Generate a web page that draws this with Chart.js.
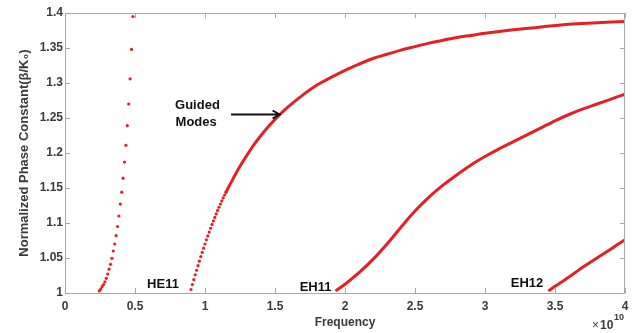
<!DOCTYPE html>
<html>
<head>
<meta charset="utf-8">
<script src="https://cdn.jsdelivr.net/npm/chart.js@4.4.1/dist/chart.umd.min.js"></script>
<style>
  html, body { margin: 0; padding: 0; background: #ffffff; }
  #wrap { width: 642px; height: 333px; position: relative; }
</style>
</head>
<body>
<div id="wrap"><canvas id="c" width="642" height="333"></canvas></div>
<script>
// ---- Data (frequency in units of 1e10 Hz, normalized phase constant beta/K0) ----
const mode1Freq = [0.245,0.255,0.265,0.275,0.285,0.295,0.305,0.315,0.325,0.335,0.345,0.355,0.365,0.375,0.385,0.395,0.405,0.415,0.425,0.435,0.445,0.455,0.465,0.475,0.485];
const mode1Beta = [1.003,1.0055,1.009,1.012,1.016,1.021,1.027,1.034,1.041,1.0496,1.060,1.070,1.082,1.095,1.110,1.127,1.144,1.164,1.187,1.211,1.239,1.270,1.306,1.348,1.395];

const he11DotFreq = [0.90,0.91,0.92,0.93,0.94,0.95,0.96,0.97,0.98,0.99,1.00,1.01,1.02,1.03,1.04,1.05,1.06,1.07,1.08,1.09,1.10,1.11,1.12,1.13,1.14,1.15];
const he11DotBeta = [1.005,1.012,1.019,1.026,1.0325,1.039,1.0455,1.052,1.058,1.064,1.070,1.076,1.0815,1.087,1.0925,1.098,1.103,1.108,1.113,1.118,1.1225,1.127,1.1315,1.136,1.140,1.144];

const he11Freq = [1.15,1.20,1.25,1.30,1.35,1.40,1.45,1.50,1.55,1.60,1.70,1.80,1.90,2.00,2.10,2.20,2.30,2.40,2.50,2.60,2.70,2.80,2.90,3.00,3.20,3.40,3.60,3.80,4.00];
const he11Beta = [1.144,1.163,1.181,1.197,1.212,1.225,1.237,1.248,1.258,1.267,1.283,1.297,1.308,1.318,1.327,1.335,1.341,1.347,1.352,1.357,1.361,1.365,1.368,1.371,1.376,1.380,1.384,1.386,1.388];

const eh11Freq = [1.94,2.00,2.10,2.20,2.30,2.40,2.50,2.60,2.70,2.80,2.90,3.00,3.10,3.20,3.30,3.40,3.50,3.60,3.70,3.80,3.90,4.00];
const eh11Beta = [1.004,1.0125,1.029,1.048,1.070,1.094,1.117,1.137,1.154,1.169,1.183,1.195,1.206,1.216,1.226,1.236,1.246,1.255,1.263,1.270,1.277,1.284];

const eh12Freq = [3.46,3.50,3.55,3.60,3.65,3.70,3.75,3.80,3.85,3.90,3.95,4.00];
const eh12Beta = [1.004,1.0095,1.016,1.023,1.030,1.037,1.0435,1.050,1.0565,1.063,1.0695,1.076];

const xTickLabels = ['0','0.5','1','1.5','2','2.5','3','3.5','4'];
const yTickLabels = ['1','1.05','1.1','1.15','1.2','1.25','1.3','1.35','1.4'];

const modeLabels = [
  { text: 'HE11', x: 0.70, y: 1.012 },
  { text: 'EH11', x: 1.79, y: 1.0075 },
  { text: 'EH12', x: 3.30, y: 1.013 }
];

// ---- helpers ----
const pts = (xs, ys) => xs.map((x, i) => ({ x: x, y: ys[i] }));
const RED = 'rgb(228,32,38)';
const FONT = "'Liberation Sans', Arial, sans-serif";

const annotationPlugin = {
  id: 'annot',
  afterDraw(chart) {
    const { ctx, chartArea: a, scales: { x, y } } = chart;
    ctx.save();
    // frame
    ctx.strokeStyle = '#a9a9a9';
    ctx.lineWidth = 1;
    ctx.strokeRect(a.left + 0.5, a.top + 0.5, a.right - a.left - 1, a.bottom - a.top);
    // inward ticks
    ctx.beginPath();
    x.ticks.forEach(t => {
      const px = Math.round(x.getPixelForValue(t.value)) + 0.5;
      ctx.moveTo(px, a.bottom); ctx.lineTo(px, a.bottom - 5);
      ctx.moveTo(px, a.top); ctx.lineTo(px, a.top + 5);
    });
    y.ticks.forEach(t => {
      const py = Math.round(y.getPixelForValue(t.value)) + 0.5;
      ctx.moveTo(a.left, py); ctx.lineTo(a.left + 5, py);
      ctx.moveTo(a.right, py); ctx.lineTo(a.right - 5, py);
    });
    ctx.stroke();

    // mode labels
    ctx.fillStyle = '#111';
    ctx.font = 'bold 13px ' + FONT;
    ctx.textAlign = 'center';
    ctx.textBaseline = 'middle';
    modeLabels.forEach(l => {
      ctx.fillText(l.text, x.getPixelForValue(l.x), y.getPixelForValue(l.y));
    });
    // Guided Modes
    ctx.textAlign = 'left';
    ctx.fillText('Guided', x.getPixelForValue(0.786), y.getPixelForValue(1.2686));
    ctx.fillText('Modes', x.getPixelForValue(0.79), y.getPixelForValue(1.2443));
    // arrow
    const x0 = x.getPixelForValue(1.186), x1 = x.getPixelForValue(1.533);
    const ay = y.getPixelForValue(1.255);
    ctx.strokeStyle = '#111';
    ctx.lineWidth = 2;
    ctx.beginPath();
    ctx.moveTo(x0, ay); ctx.lineTo(x1, ay);
    ctx.moveTo(x1 - 7, ay - 4); ctx.lineTo(x1, ay); ctx.lineTo(x1 - 7, ay + 4);
    ctx.stroke();

    // x10^10 exponent label
    ctx.fillStyle = '#3a3a3a';
    ctx.textAlign = 'left';
    ctx.textBaseline = 'alphabetic';
    ctx.font = '12px ' + FONT;
    ctx.fillText('\u00d7', 592, 329);
    ctx.font = 'bold 12px ' + FONT;
    ctx.fillText('10', 600, 329);
    ctx.font = 'bold 9px ' + FONT;
    ctx.fillText('10', 614, 320);
    ctx.restore();
  }
};

new Chart(document.getElementById('c'), {
  type: 'scatter',
  data: {
    datasets: [
      { label: 'mode1', data: pts(mode1Freq, mode1Beta), pointRadius: 1.6, pointBorderWidth: 0, backgroundColor: RED, showLine: false },
      { label: 'HE11 dots', data: pts(he11DotFreq, he11DotBeta), pointRadius: 1.6, pointBorderWidth: 0, backgroundColor: RED, showLine: false },
      { label: 'HE11', data: pts(he11Freq, he11Beta), showLine: true, pointRadius: 0, borderColor: RED, borderWidth: 3, cubicInterpolationMode: 'monotone', borderCapStyle: 'round' },
      { label: 'EH11', data: pts(eh11Freq, eh11Beta), showLine: true, pointRadius: 0, borderColor: RED, borderWidth: 3, cubicInterpolationMode: 'monotone', borderCapStyle: 'round' },
      { label: 'EH12', data: pts(eh12Freq, eh12Beta), showLine: true, pointRadius: 0, borderColor: RED, borderWidth: 3, cubicInterpolationMode: 'monotone', borderCapStyle: 'round' }
    ]
  },
  options: {
    responsive: false,
    animation: false,
    events: [],
    layout: { padding: { left: 0, right: 17, top: 13, bottom: 0 } },
    plugins: { legend: { display: false }, tooltip: { enabled: false } },
    scales: {
      x: {
        type: 'linear', min: 0, max: 4,
        grid: { display: false, drawTicks: false },
        border: { display: false },
        afterFit(s) { s.height = 40; },
        ticks: {
          stepSize: 0.5, padding: 6, color: '#3a3a3a',
          font: { family: FONT, size: 12, weight: 'bold' },
          maxRotation: 0,
          callback: (v, i) => xTickLabels[i]
        },
        title: { display: true, text: 'Frequency', color: '#3a3a3a', font: { family: FONT, size: 12, weight: 'bold' }, padding: { top: 0, bottom: 3 } }
      },
      y: {
        type: 'linear', min: 1, max: 1.4,
        grid: { display: false, drawTicks: false },
        border: { display: false },
        afterFit(s) { s.width = 65; },
        ticks: {
          stepSize: 0.05, padding: 2, color: '#3a3a3a',
          font: { family: FONT, size: 12, weight: 'bold' },
          callback: (v, i) => yTickLabels[i]
        },
        title: { display: true, text: 'Normalized Phase Constant(\u03b2/K\u2080)', color: '#3a3a3a', font: { family: FONT, size: 13, weight: 'bold' }, padding: { top: 17, bottom: 0 } }
      }
    }
  },
  plugins: [annotationPlugin]
});
</script>
</body>
</html>
